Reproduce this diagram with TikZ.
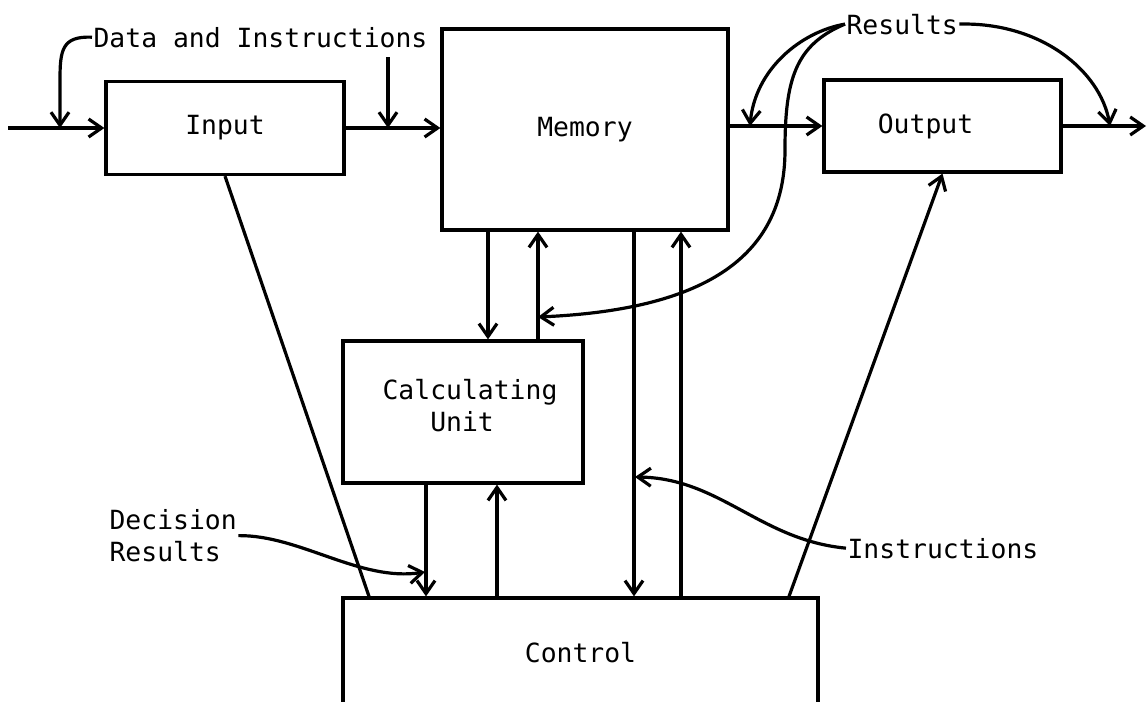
\documentclass[tikz,border=0pt]{standalone}
\usepackage{fontspec}
\newfontfamily\typefont{DejaVu Sans Mono}
\usetikzlibrary{arrows.meta}

\begin{document}
\begin{tikzpicture}[x=0.5pt,y=-0.5pt,line width=1.6pt,
	>={Straight Barb[length=6.5pt,width=9pt]},
	every node/.style={font=\typefont\fontsize{13.2}{15.8}\selectfont}]

	\tikzstyle{unit} = [draw,rectangle,inner sep=0pt]
	\tikzstyle{tag} = [inner sep=0pt]

	\useasboundingbox (0,0) rectangle (1148,702);
	\clip (0,0) rectangle (1148,702);
	\fill[white] (0,0) rectangle (1148,702);

	% the five units
	\node[unit,minimum width=119pt,minimum height=46.5pt] (input) at (225,128) {Input};
	\node[unit,minimum width=143pt,minimum height=100.5pt] (memory) at (585,129.5) {Memory};
	\node[unit,minimum width=118.5pt,minimum height=46pt,
		label={[xshift=-8.5pt]center:Output}] (output) at (942.5,126) {};
	\node[unit,minimum width=120pt,minimum height=71pt,
		label={[xshift=3.5pt,yshift=3.2pt,align=left]center:Calculating\\\phantom{Cal}Unit}] (calc) at (463,412) {};
	\node[unit,minimum width=237.5pt,minimum height=65pt,
		label={[yshift=5pt]center:Control}] (control) at (580.5,663) {};

	% texts
	\node[tag,anchor=base west] (datatext) at (92,47) {Data and Instructions};
	\node[tag,anchor=base west] (results) at (845,34) {Results};
	\node[tag,anchor=north west,align=left] (decision) at (108,508) {Decision\\Results};
	\node[tag,anchor=base west] (instructions) at (846,558) {Instructions};

	% free ends
	\coordinate (inStart) at (8,128);
	\coordinate (outEnd) at (1146,126);
	\coordinate (dataDrop) at (388,57);
	\coordinate (dataTip) at (60,128);
	\coordinate (resTip) at (750,126);
	\coordinate (outTip) at (1110,126);
	\coordinate (calcTip) at (538,317);
	\coordinate (decTip) at (425,572);
	\coordinate (insTip) at (635,477);

	% columns of the vertical lines
	\coordinate (cA) at (426,0);
	\coordinate (cB) at (497,0);
	\coordinate (cC) at (488,0);
	\coordinate (cD) at (538,0);
	\coordinate (cE) at (634,0);
	\coordinate (cF) at (681,0);
	\coordinate (cG) at (369,0);
	\coordinate (cH) at (789,0);

	% main line
	\draw[->] (inStart) -- (input.west);
	\draw[->] (input.east) -- (input.east -| memory.west);
	\draw[->] (output.west -| memory.east) -- (output.west);
	\draw[->] (output.east) -- (outEnd);
	\draw[->] (dataDrop) -- (dataDrop |- input.east);

	\foreach \col/\from/\to in {cC/memory.south/calc.north, cD/calc.north/memory.south,
		cE/memory.south/control.north, cF/control.north/memory.south,
		cA/calc.south/control.north, cB/control.north/calc.south}
		\draw[->] (\col |- \from) -- (\col |- \to);

	\draw (input.south) -- (cG |- control.north);
	\draw[->] (cH |- control.north) -- (output.south);

	% pointers from the texts
	\draw[->] (datatext.west) .. controls (62,36) and (60,50) .. (60,80) -- (dataTip);
	\draw[->] (results.west) .. controls (800,32) and (755,70) .. (resTip);
	\draw[->] (results.west) .. controls (795,45) and (785,80) .. (785,150)
		.. controls (785,260) and (700,310) .. (calcTip);
	\draw[->] (results.east) .. controls (1040,22) and (1100,70) .. (outTip);
	\draw[->] (decision.east) .. controls (300,535) and (360,582) .. (decTip);
	\draw[->] (instructions.west) .. controls (760,540) and (720,478) .. (insTip);

\end{tikzpicture}
\end{document}
